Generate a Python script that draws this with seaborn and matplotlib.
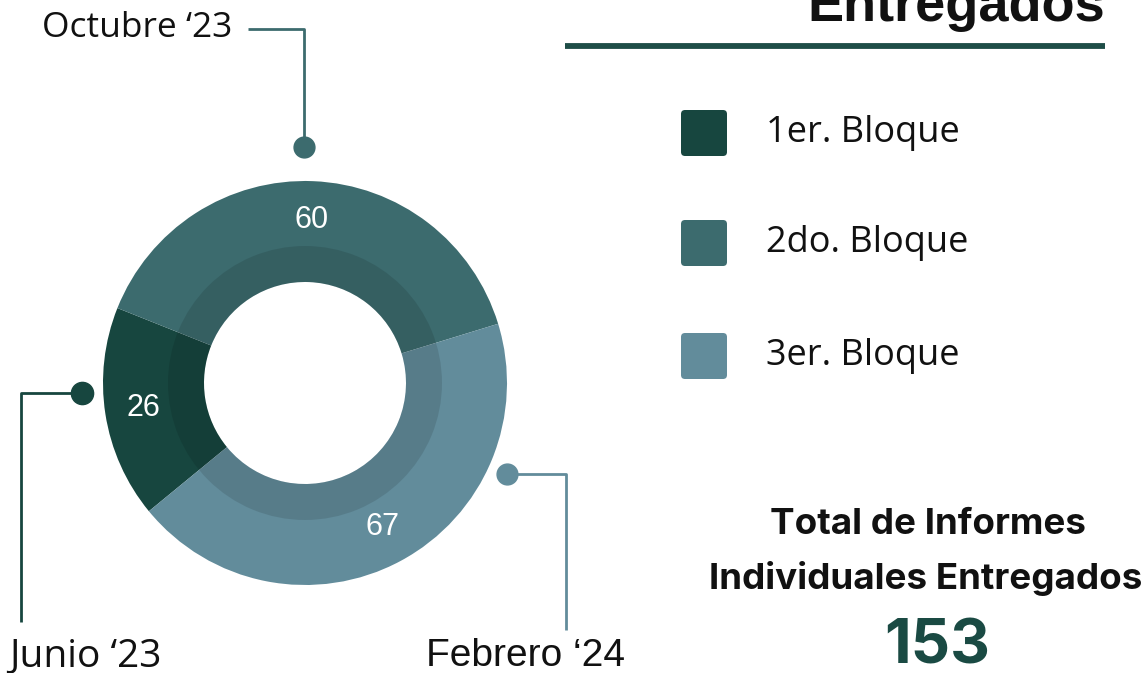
import matplotlib.pyplot as plt
import seaborn as sns
from matplotlib.patches import FancyBboxPatch, Wedge


sns.set_theme(style="white")
plt.rcParams["font.family"] = ["Open Sans", "DejaVu Sans"]

# data
bloques = ["1er. Bloque", "2do. Bloque", "3er. Bloque"]
periodos = ["Junio \u201823", "Octubre \u201823", "Febrero \u201824"]
informes = [26, 60, 67]
colores = ["#17463f", "#3c6b6e", "#628c9b"]

W, H = 1147, 673


def y(px):
    # convert pixel row (top origin) into data y
    return H - px


fig = plt.figure(figsize=(W / 100, H / 100), dpi=100)
ax = fig.add_axes([0, 0, 1, 1])

total = sum(informes)
cx, cy = 305, y(383)

wedges, _, autotexts = ax.pie(
    informes,
    colors=colores,
    startangle=219.4,
    counterclock=False,
    radius=202,
    center=(cx, cy),
    wedgeprops=dict(width=101, linewidth=0),
    autopct=lambda p: f"{p * total / 100:.0f}",
    pctdistance=163 / 202,
    textprops=dict(color="white", fontsize=22, family="Liberation Sans"),
)
# darker inner band
ax.add_patch(Wedge((cx, cy), 137, 0, 360, width=36, facecolor="black",
                   alpha=0.11, linewidth=0))

# callouts
line_kw = dict(linewidth=2, solid_capstyle="butt")
# Octubre (2do bloque)
ax.plot([248, 304, 304], [y(29), y(29), y(147)], color=colores[1], **line_kw)
ax.plot(304, y(147), "o", markersize=15, color=colores[1])
ax.text(42, y(28), periodos[1], fontsize=25.5, ha="left", va="center", color="#111111")
# Junio (1er bloque)
ax.plot([82, 21, 21], [y(393), y(393), y(622)], color=colores[0], **line_kw)
ax.plot(82, y(393), "o", markersize=16, color=colores[0])
ax.text(9, y(656), periodos[0], fontsize=28, ha="left", va="center", color="#111111")
# Febrero (3er bloque)
ax.plot([507, 566, 566], [y(474), y(474), y(630)], color=colores[2], **line_kw)
ax.plot(507, y(474), "o", markersize=15, color=colores[2])
ax.text(525, y(656), periodos[2], fontsize=28, ha="center", va="center",
        color="#111111", family="Liberation Sans")

# title (cropped at top) and rule
ax.text(1105, y(21), "Entregados", fontsize=39, fontweight="bold", ha="right",
        va="baseline", family="Liberation Sans", color="#111111")
ax.plot([565, 1105], [y(45.5), y(45.5)], color="#1e4d47", linewidth=4.2,
        solid_capstyle="butt")

# legend
legend_rows = [133, 243, 356]
for bloque, color, row in zip(bloques, colores, legend_rows):
    ax.add_patch(FancyBboxPatch((681, y(row + 23)), 46, 46,
                                boxstyle="round,pad=0,rounding_size=4",
                                facecolor=color, edgecolor="none"))
    ax.text(766, y(row), bloque, fontsize=26, ha="left", va="center",
            color="#111111")

# total
ax.text(928, y(524), "Total de Informes", fontsize=26.5, fontweight="bold",
        ha="center", va="center", family="Inter", color="#111111")
ax.text(926, y(579), "Individuales Entregados", fontsize=26.5, fontweight="bold",
        ha="center", va="center", family="Inter", color="#111111")
ax.text(937, y(648), f"{total}", fontsize=44.5, fontweight="bold",
        ha="center", va="center", family="Inter", color="#1a4a43")

ax.set_xlim(0, W)
ax.set_ylim(0, H)
ax.set_aspect("auto")
ax.axis("off")

fig.savefig("out.png", dpi=100)
plt.close(fig)
